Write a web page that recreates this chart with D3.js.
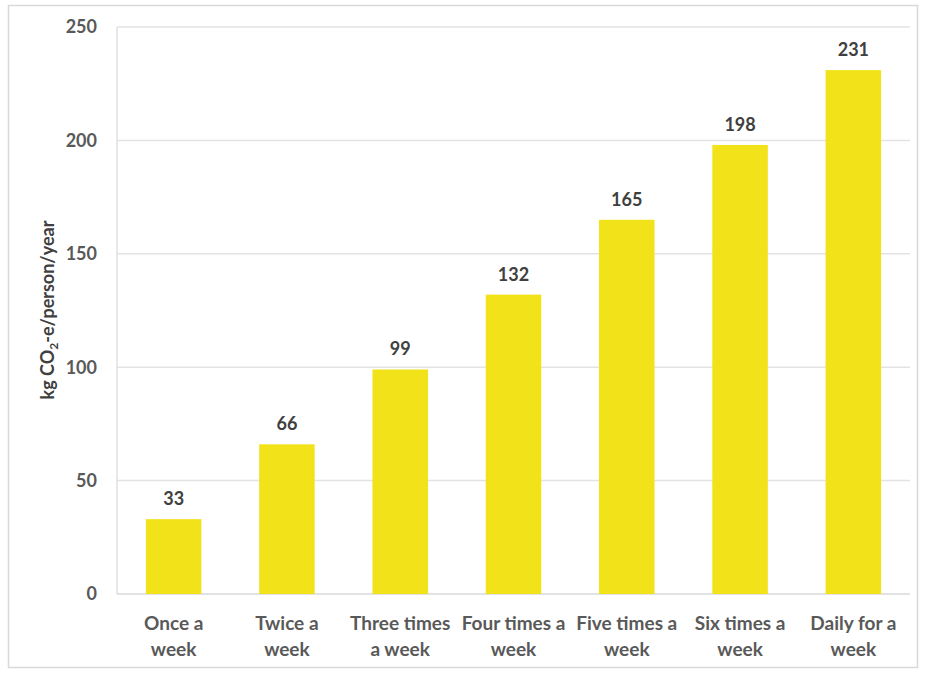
<!DOCTYPE html>
<html>
<head>
<meta charset="utf-8">
<script src="https://cdn.jsdelivr.net/npm/d3@7"></script>
<style>
  body { margin: 0; background: #fff; }
  text { font-family: Lato, "Open Sans", sans-serif; font-weight: bold; }
</style>
</head>
<body>
<svg id="chart" width="925" height="677"></svg>
<script>
const categories = [
  ["Once a", "week"],
  ["Twice a", "week"],
  ["Three times", "a week"],
  ["Four times a", "week"],
  ["Five times a", "week"],
  ["Six times a", "week"],
  ["Daily for a", "week"]
];
const values = [33, 66, 99, 132, 165, 198, 231];
const yTicks = [0, 50, 100, 150, 200, 250];

const svg = d3.select('#chart');

// outer frame
svg.append('rect')
  .attr('x', 8.5).attr('y', 5.5)
  .attr('width', 909).attr('height', 662)
  .attr('fill', '#fff')
  .attr('stroke', '#d9d9d9')
  .attr('stroke-width', 1.5);

const plotLeft = 117, plotRight = 910, plotTop = 27, plotBottom = 594;

const x = d3.scaleBand()
  .domain(d3.range(categories.length))
  .range([plotLeft, plotRight])
  .paddingInner(0.51)
  .paddingOuter(0.255);

const y = d3.scaleLinear()
  .domain([0, 250])
  .range([plotBottom, plotTop]);

// gridlines
svg.append('g')
  .selectAll('line')
  .data(yTicks.filter(d => d > 0))
  .enter()
  .append('line')
  .attr('x1', plotLeft).attr('x2', plotRight)
  .attr('y1', d => y(d)).attr('y2', d => y(d))
  .attr('stroke', '#e3e3e3')
  .attr('stroke-width', 1.5);

// y axis line and baseline
svg.append('line')
  .attr('x1', plotLeft).attr('x2', plotLeft)
  .attr('y1', plotTop).attr('y2', plotBottom)
  .attr('stroke', '#e0e0e0').attr('stroke-width', 1.5);
svg.append('line')
  .attr('x1', plotLeft).attr('x2', plotRight)
  .attr('y1', plotBottom).attr('y2', plotBottom)
  .attr('stroke', '#d9d9d9').attr('stroke-width', 1.5);

// y tick labels
svg.append('g')
  .selectAll('text')
  .data(yTicks)
  .enter()
  .append('text')
  .attr('x', 97)
  .attr('y', d => y(d))
  .attr('dy', '0.35em')
  .attr('text-anchor', 'end')
  .attr('font-size', 18)
  .attr('fill', '#595959')
  .text(d => d);

// bars
svg.append('g')
  .selectAll('rect')
  .data(values)
  .enter()
  .append('rect')
  .attr('x', (d, i) => x(i))
  .attr('y', d => y(d))
  .attr('width', x.bandwidth())
  .attr('height', d => y(0) - y(d))
  .attr('fill', '#f2e21a');

// value labels
svg.append('g')
  .selectAll('text')
  .data(values)
  .enter()
  .append('text')
  .attr('x', (d, i) => x(i) + x.bandwidth() / 2)
  .attr('y', d => y(d) - 14)
  .attr('text-anchor', 'middle')
  .attr('font-size', 18)
  .attr('fill', '#404040')
  .text(d => d);

// category labels
const cat = svg.append('g')
  .selectAll('text')
  .data(categories)
  .enter()
  .append('text')
  .attr('x', (d, i) => x(i) + x.bandwidth() / 2)
  .attr('y', 630)
  .attr('text-anchor', 'middle')
  .attr('font-size', 19)
  .attr('fill', '#595959');
cat.each(function(d) {
  const t = d3.select(this);
  const cx = t.attr('x');
  d.forEach((line, j) => {
    t.append('tspan').attr('x', cx).attr('dy', j === 0 ? 0 : 26).text(line);
  });
});

// y axis title
const title = svg.append('text')
  .attr('transform', 'translate(54,' + 310 + ') rotate(-90)')
  .attr('text-anchor', 'middle')
  .attr('font-size', 18)
  .attr('fill', '#404040');
title.append('tspan').text('kg CO');
title.append('tspan').attr('font-size', 12).attr('dy', 4).text('2');
title.append('tspan').attr('dy', -4).text('-e/person/year');
</script>
</body>
</html>
